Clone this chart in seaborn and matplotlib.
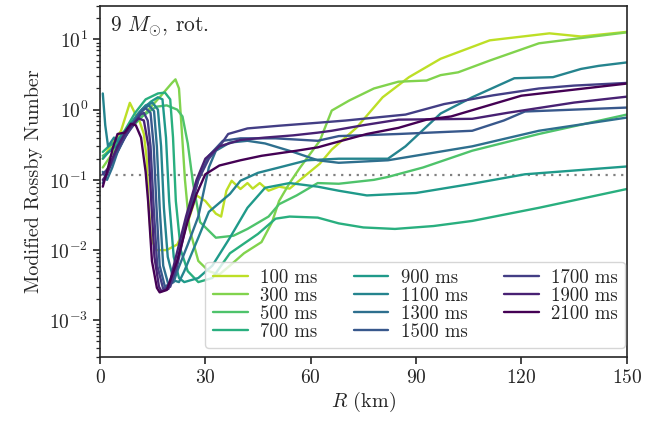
import numpy as np
import pandas as pd
import matplotlib
matplotlib.use("Agg")
import matplotlib.pyplot as plt
import seaborn as sns

times = ["100 ms", "300 ms", "500 ms", "700 ms", "900 ms", "1100 ms",
         "1300 ms", "1500 ms", "1700 ms", "1900 ms", "2100 ms"]

r100 = [0.8, 3, 6, 8.5, 10, 11, 12.5, 13.3, 13.8, 14.5, 16, 19, 22, 25, 27.5, 30, 33, 34.5, 36, 37.5,
        40, 42, 43.5, 45.5, 48, 51, 54, 57, 62.6, 66, 73, 80.5, 88, 97, 111, 128, 137, 150]
v100 = [0.2, 0.3, 0.5, 1.25, 0.88, 0.75, 0.45, 0.2, 0.05, 0.015, 0.01, 0.01, 0.012, 0.025, 0.06, 0.05, 0.033, 0.03, 0.07, 0.097,
        0.074, 0.09, 0.075, 0.09, 0.07, 0.08, 0.075, 0.1, 0.17, 0.27, 0.55, 1.5, 2.9, 5.3, 9.7, 12.2, 11, 12.8]

r300 = [0.8, 2.5, 5, 8, 13, 17, 20.5, 21.5, 22.5, 23.3, 24.2, 25.5, 28, 31, 34, 37, 41, 46, 49, 51,
        54, 57, 62.6, 66, 71, 78, 85, 93, 97, 102, 111, 125, 150]
v300 = [0.15, 0.2, 0.3, 0.5, 0.9, 1.5, 2.4, 2.7, 2.0, 0.5, 0.1, 0.02, 0.007, 0.005, 0.0045, 0.006, 0.009, 0.013, 0.025, 0.05,
        0.09, 0.15, 0.36, 0.97, 1.35, 2.0, 2.5, 2.6, 3.1, 3.4, 5.0, 8.8, 12.6]

r500 = [0.8, 2.5, 5, 8, 12, 16, 19, 22, 23.5, 25, 26.5, 28.5, 33, 38, 42, 48, 51, 56, 62, 68,
        78, 82, 92, 106, 125, 150]
v500 = [0.22, 0.25, 0.35, 0.5, 0.8, 1.1, 1.15, 1.0, 0.8, 0.33, 0.09, 0.025, 0.015, 0.016, 0.02, 0.03, 0.045, 0.06, 0.09, 0.088,
        0.1, 0.11, 0.15, 0.26, 0.45, 0.85]

r700 = [0.8, 2.5, 4.5, 7, 10, 13, 16.5, 18.5, 20, 20.8, 21.6, 23, 25, 28, 32, 37, 45, 50, 54, 62,
        68, 75, 84, 95, 106, 125, 150]
v700 = [0.25, 0.3, 0.35, 0.5, 0.9, 1.4, 1.7, 1.75, 1.4, 0.4, 0.05, 0.01, 0.005, 0.0035, 0.004, 0.009, 0.017, 0.028, 0.03, 0.029,
        0.024, 0.021, 0.02, 0.022, 0.026, 0.04, 0.074]

r900 = [0.8, 2.5, 4.5, 7, 9.5, 12, 14.5, 16.5, 17.8, 18.8, 19.7, 21, 22.5, 24, 28, 32, 37, 42, 47, 54,
        62, 68, 76, 90, 106, 121, 150]
v900 = [0.2, 0.25, 0.3, 0.45, 0.7, 1.0, 1.3, 1.5, 1.4, 0.4, 0.05, 0.008, 0.004, 0.0035, 0.004, 0.006, 0.015, 0.04, 0.077, 0.09,
        0.08, 0.07, 0.06, 0.065, 0.088, 0.12, 0.155]

r1100 = [0.8, 1.5, 2.3, 4, 5, 6.5, 8.5, 11, 13, 15, 16.5, 17.4, 18.2, 19.3, 21, 22.5, 24, 28, 31, 37,
         40, 45, 51, 59, 68, 82, 87, 97, 106, 118, 129, 137, 142, 150]
v1100 = [1.7, 0.6, 0.3, 0.4, 0.35, 0.45, 0.6, 0.9, 1.15, 1.25, 1.0, 0.3, 0.04, 0.008, 0.0037, 0.0035, 0.005, 0.015, 0.035, 0.063,
         0.097, 0.126, 0.15, 0.19, 0.2, 0.2, 0.3, 0.88, 1.5, 2.8, 2.9, 3.8, 4.2, 4.7]

r1300 = [0.8, 2, 3.5, 5, 7, 10, 12, 14, 15.4, 16.2, 17, 18, 19.5, 21, 22, 25, 28, 31, 33, 37,
         42, 47, 55, 62, 68, 82, 106, 125, 150]
v1300 = [0.13, 0.1, 0.15, 0.25, 0.4, 0.7, 1.0, 1.15, 0.95, 0.3, 0.04, 0.006, 0.0032, 0.0035, 0.005, 0.012, 0.03, 0.15, 0.26, 0.34,
         0.36, 0.33, 0.25, 0.19, 0.175, 0.19, 0.3, 0.5, 0.77]

r1500 = [0.8, 2.5, 4, 6.5, 9, 11.5, 13, 14.4, 15.3, 16.1, 17, 18.5, 20.5, 22, 25, 28, 31, 35, 40, 50,
         62, 68, 85, 106, 115, 121, 150]
v1500 = [0.09, 0.14, 0.2, 0.35, 0.6, 0.9, 1.05, 0.9, 0.3, 0.04, 0.006, 0.003, 0.0035, 0.007, 0.03, 0.1, 0.22, 0.36, 0.39, 0.39,
         0.36, 0.42, 0.45, 0.5, 0.7, 0.94, 1.07]

r1700 = [0.8, 2.5, 4.5, 7, 9.5, 11.5, 12.5, 13.6, 14.4, 15.3, 16.3, 18, 20, 22, 25, 28, 31, 35, 36.5, 42,
         51, 62, 70, 87, 98, 112, 125, 135, 150]
v1700 = [0.12, 0.15, 0.25, 0.4, 0.6, 0.85, 0.9, 0.7, 0.3, 0.04, 0.006, 0.0028, 0.003, 0.006, 0.03, 0.1, 0.2, 0.35, 0.45, 0.54,
         0.59, 0.65, 0.7, 0.85, 1.2, 1.6, 2.0, 2.2, 2.4]

r1900 = [0.8, 2, 3.5, 5, 7, 9, 11, 12.5, 13.8, 14.6, 15.5, 16.8, 17.5, 19.5, 21, 24.5, 27.5, 30, 34, 40,
         47, 55, 62, 66, 75, 85, 106, 116, 135, 150]
v1900 = [0.1, 0.12, 0.2, 0.3, 0.45, 0.6, 0.75, 0.7, 0.3, 0.05, 0.008, 0.003, 0.0026, 0.0028, 0.006, 0.03, 0.1, 0.2, 0.3, 0.37,
         0.4, 0.43, 0.47, 0.5, 0.6, 0.72, 0.74, 0.9, 1.26, 1.53]

r2100 = [0.8, 2.3, 3.7, 5, 7, 8.8, 10.2, 11.7, 13, 13.7, 14.8, 16.2, 17, 19, 22, 25, 27.5, 30, 34, 40,
         46, 56, 62, 66, 76, 85, 93, 100, 120, 150]
v2100 = [0.08, 0.15, 0.29, 0.45, 0.47, 0.63, 0.6, 0.4, 0.13, 0.05, 0.007, 0.0029, 0.0025, 0.0027, 0.007, 0.026, 0.063, 0.12, 0.16, 0.19,
         0.22, 0.26, 0.29, 0.33, 0.45, 0.55, 0.72, 0.8, 1.58, 2.35]

threshold = 0.118
x_ticks = [0, 30, 60, 90, 120, 150]

radii = [r100, r300, r500, r700, r900, r1100, r1300, r1500, r1700, r1900, r2100]
values = [v100, v300, v500, v700, v900, v1100, v1300, v1500, v1700, v1900, v2100]

frames = []
for t, r, v in zip(times, radii, values):
    frames.append(pd.DataFrame({"R": r, "Ro": v, "time": t}))
df = pd.concat(frames, ignore_index=True)

sns.set_theme(style="ticks")
plt.rcParams.update({
    "font.family": "serif",
    "font.serif": ["cmr10", "DejaVu Serif"],
    "mathtext.fontset": "cm",
    "axes.formatter.use_mathtext": True,
    "axes.linewidth": 1.2,
    "xtick.major.width": 1.2,
    "ytick.major.width": 1.2,
    "ytick.minor.width": 0.9,
    "xtick.major.size": 5,
    "ytick.major.size": 5,
    "ytick.minor.size": 3,
})

cmap = matplotlib.colormaps["viridis"]
palette = {t: cmap(c) for t, c in zip(times, np.linspace(0.9, 0.0, len(times)))}

fig = plt.figure(figsize=(6.71, 4.22), dpi=100)
ax = fig.add_axes([0.149, 0.154, 0.785, 0.832])

sns.lineplot(data=df, x="R", y="Ro", hue="time", hue_order=times, palette=palette,
             estimator=None, sort=False, linewidth=1.7, ax=ax, legend=True)

ax.axhline(threshold, color="gray", linestyle=(0, (1, 2.5)), linewidth=1.6, zorder=0.5)

ax.set_yscale("log")
ax.set_xlim(0, 150)
ax.set_ylim(3e-4, 30)
ax.set_xticks(x_ticks)
ax.tick_params(axis="both", labelsize=14)
ax.set_xlabel("$R$ (km)", fontsize=14.5, labelpad=2)
ax.set_ylabel("Modified Rossby Number", fontsize=14.5, labelpad=4)
for s in ax.spines.values():
    s.set_visible(True)

ax.text(0.019, 0.975, r"9 $M_{\odot}$, rot.", transform=ax.transAxes,
        fontsize=15.5, ha="left", va="top")

sns.move_legend(ax, "lower right", ncol=3, title=None, fontsize=13.5,
                bbox_to_anchor=(0.997, 0.025), borderaxespad=0.0,
                columnspacing=1.95, handlelength=1.85, handletextpad=0.65,
                labelspacing=0.0, borderpad=0.4,
                frameon=True, fancybox=True)

fig.savefig("out.png", dpi=100)
